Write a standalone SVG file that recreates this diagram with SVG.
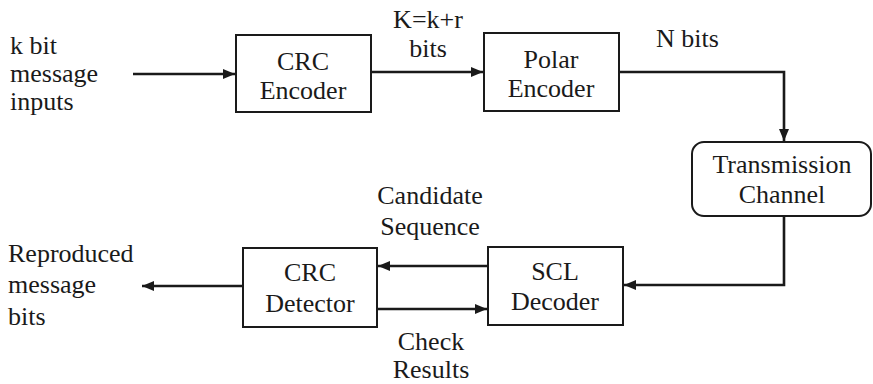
<svg xmlns="http://www.w3.org/2000/svg" width="873" height="384" viewBox="0 0 873 384">
<defs>
<marker id="ah" viewBox="0 0 12 10" refX="12" refY="5" markerWidth="12" markerHeight="10" markerUnits="userSpaceOnUse" orient="auto">
<path d="M0,0 L12,5 L0,10 Z" fill="#1a1a1a"/>
</marker>
</defs>
<style>
text{font-family:"Liberation Serif","Times New Roman",Tinos,"DejaVu Serif",serif;font-size:26px;fill:#1a1a1a}
.c{text-anchor:middle}
.box{fill:#fff;stroke:#1a1a1a;stroke-width:2}
.ln{fill:none;stroke:#1a1a1a;stroke-width:2.6}
</style>
<rect width="873" height="384" fill="#fff"/>
<g id="connectors">
<line class="ln" x1="133" y1="74" x2="235" y2="74" marker-end="url(#ah)"/>
<line class="ln" x1="371" y1="72" x2="483" y2="72" marker-end="url(#ah)"/>
<polyline class="ln" points="619,72 784,72 784,141" marker-end="url(#ah)"/>
<polyline class="ln" points="784,216 784,285 624,285" marker-end="url(#ah)"/>
<line class="ln" x1="488" y1="266" x2="378" y2="266" marker-end="url(#ah)"/>
<line class="ln" x1="377" y1="309" x2="487" y2="309" marker-end="url(#ah)"/>
<line class="ln" x1="243" y1="286" x2="142" y2="286" marker-end="url(#ah)"/>
</g>
<g id="input-label">
<text x="10" y="54" font-family="Liberation Serif, serif">k bit</text>
<text x="10" y="82" font-family="Liberation Serif, serif">message</text>
<text x="10" y="110" font-family="Liberation Serif, serif">inputs</text>
</g>
<g id="crc-encoder">
<rect class="box" x="236" y="35" width="135" height="77"/>
<text class="c" x="303" y="70">CRC</text>
<text class="c" x="303" y="99">Encoder</text>
</g>
<g id="k-label">
<text class="c" x="428" y="28">K=k+r</text>
<text class="c" x="428" y="57">bits</text>
</g>
<g id="polar-encoder">
<rect class="box" x="484" y="33" width="135" height="78"/>
<text class="c" x="551" y="68">Polar</text>
<text class="c" x="551" y="97">Encoder</text>
</g>
<g id="n-label">
<text x="656" y="47">N bits</text>
</g>
<g id="transmission-channel">
<rect class="box" x="692" y="142" width="179" height="74" rx="12" ry="12"/>
<text class="c" x="782" y="173">Transmission</text>
<text class="c" x="782" y="203">Channel</text>
</g>
<g id="scl-decoder">
<rect class="box" x="488" y="247" width="135" height="78"/>
<text class="c" x="555" y="280">SCL</text>
<text class="c" x="555" y="310">Decoder</text>
</g>
<g id="candidate-label">
<text class="c" x="430" y="204">Candidate</text>
<text class="c" x="430" y="235">Sequence</text>
</g>
<g id="check-label">
<text class="c" x="431" y="350">Check</text>
<text class="c" x="431" y="378">Results</text>
</g>
<g id="crc-detector">
<rect class="box" x="243" y="248" width="134" height="79"/>
<text class="c" x="310" y="281">CRC</text>
<text class="c" x="310" y="312">Detector</text>
</g>
<g id="output-label">
<text x="8" y="262">Reproduced</text>
<text x="8" y="293">message</text>
<text x="8" y="325">bits</text>
</g>
</svg>
